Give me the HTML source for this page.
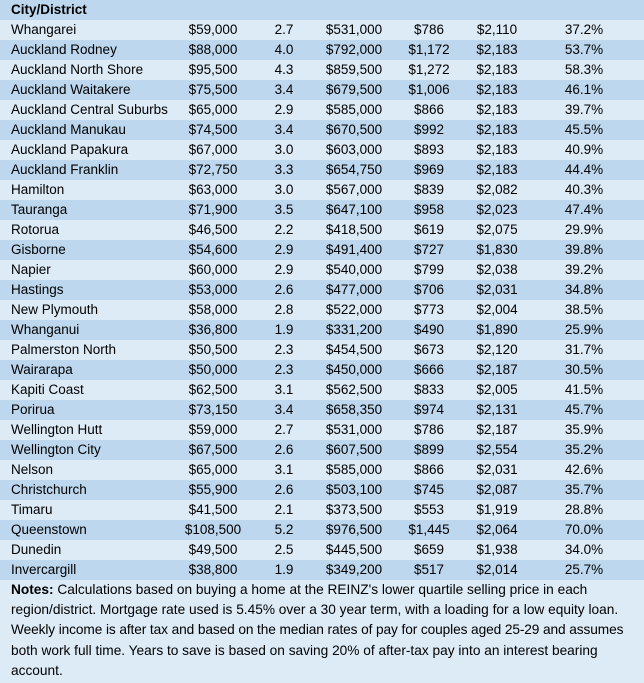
<!DOCTYPE html>
<html><head><meta charset="utf-8"><style>
body{margin:0;width:644px;height:683px;background:#ddebf7;font-family:"Liberation Sans",sans-serif;font-size:13.5px;color:#000;overflow:hidden}
.r{position:relative;height:20px;line-height:20px}
.d{background:#bdd7ee}.l{background:#ddebf7}
.r span{position:absolute;top:0;white-space:nowrap}
.r span.c{transform:translateX(-50%)}
.n{position:absolute;top:580px;left:11px;line-height:20.2px;white-space:nowrap;font-size:13.7px}
</style></head><body>
<div class="r d"><span style="left:11px;font-weight:bold">City/District</span></div>
<div id="t"></div>
<div class="n"><b>Notes:</b> Calculations based on buying a home at the REINZ's lower quartile selling price in each<br>region/district. Mortgage rate used is 5.45% over a 30 year term, with a loading for a low equity loan.<br><span style="letter-spacing:-0.1px">Weekly income is after tax and based on the median rates of pay for couples aged 25-29 and assumes</span><br>both work full time. Years to save is based on saving 20% of after-tax pay into an interest bearing<br>account.</div>
<script>
var d=[["Whangarei","$59,000","2.7","$531,000","$786","$2,110","37.2%"],
["Auckland Rodney","$88,000","4.0","$792,000","$1,172","$2,183","53.7%"],
["Auckland North Shore","$95,500","4.3","$859,500","$1,272","$2,183","58.3%"],
["Auckland Waitakere","$75,500","3.4","$679,500","$1,006","$2,183","46.1%"],
["Auckland Central Suburbs","$65,000","2.9","$585,000","$866","$2,183","39.7%"],
["Auckland Manukau","$74,500","3.4","$670,500","$992","$2,183","45.5%"],
["Auckland Papakura","$67,000","3.0","$603,000","$893","$2,183","40.9%"],
["Auckland Franklin","$72,750","3.3","$654,750","$969","$2,183","44.4%"],
["Hamilton","$63,000","3.0","$567,000","$839","$2,082","40.3%"],
["Tauranga","$71,900","3.5","$647,100","$958","$2,023","47.4%"],
["Rotorua","$46,500","2.2","$418,500","$619","$2,075","29.9%"],
["Gisborne","$54,600","2.9","$491,400","$727","$1,830","39.8%"],
["Napier","$60,000","2.9","$540,000","$799","$2,038","39.2%"],
["Hastings","$53,000","2.6","$477,000","$706","$2,031","34.8%"],
["New Plymouth","$58,000","2.8","$522,000","$773","$2,004","38.5%"],
["Whanganui","$36,800","1.9","$331,200","$490","$1,890","25.9%"],
["Palmerston North","$50,500","2.3","$454,500","$673","$2,120","31.7%"],
["Wairarapa","$50,000","2.3","$450,000","$666","$2,187","30.5%"],
["Kapiti Coast","$62,500","3.1","$562,500","$833","$2,005","41.5%"],
["Porirua","$73,150","3.4","$658,350","$974","$2,131","45.7%"],
["Wellington Hutt","$59,000","2.7","$531,000","$786","$2,187","35.9%"],
["Wellington City","$67,500","2.6","$607,500","$899","$2,554","35.2%"],
["Nelson","$65,000","3.1","$585,000","$866","$2,031","42.6%"],
["Christchurch","$55,900","2.6","$503,100","$745","$2,087","35.7%"],
["Timaru","$41,500","2.1","$373,500","$553","$1,919","28.8%"],
["Queenstown","$108,500","5.2","$976,500","$1,445","$2,064","70.0%"],
["Dunedin","$49,500","2.5","$445,500","$659","$1,938","34.0%"],
["Invercargill","$38,800","1.9","$349,200","$517","$2,014","25.7%"]];
var c=[213,284,354,429,497,584],h="";
d.forEach(function(r,i){h+='<div class="r '+(i%2?'d':'l')+'"><span style="left:11px">'+r[0]+'</span>';
for(var k=1;k<7;k++)h+='<span class="c" style="left:'+c[k-1]+'px">'+r[k]+'</span>';h+='</div>';});
document.getElementById("t").innerHTML=h;
</script>
</body></html>
